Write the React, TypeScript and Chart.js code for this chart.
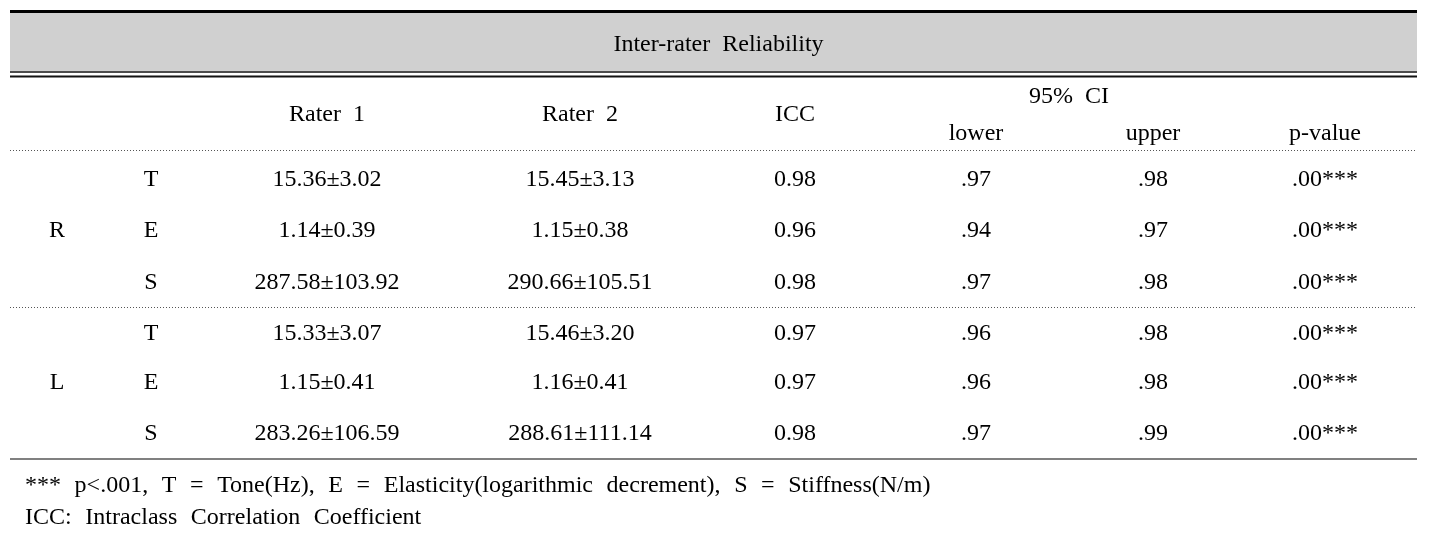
import React, { useEffect, useRef } from "react";
import { Chart, registerables } from "chart.js";

Chart.register(...registerables);

// ---- data ----
const title = "Inter-rater  Reliability";
const headerTop = ["Rater  1", "Rater  2", "ICC", "95%  CI"];
const headerSub = ["lower", "upper", "p-value"];
const sides = ["R", "L"];
const params = ["T", "E", "S", "T", "E", "S"];
const rater1 = ["15.36±3.02", "1.14±0.39", "287.58±103.92", "15.33±3.07", "1.15±0.41", "283.26±106.59"];
const rater2 = ["15.45±3.13", "1.15±0.38", "290.66±105.51", "15.46±3.20", "1.16±0.41", "288.61±111.14"];
const icc = ["0.98", "0.96", "0.98", "0.97", "0.97", "0.98"];
const lower = [".97", ".94", ".97", ".96", ".96", ".97"];
const upper = [".98", ".97", ".98", ".98", ".98", ".99"];
const pValue = [".00***", ".00***", ".00***", ".00***", ".00***", ".00***"];
const footnotes = [
  "***  p<.001,  T  =  Tone(Hz),  E  =  Elasticity(logarithmic  decrement),  S  =  Stiffness(N/m)",
  "ICC:  Intraclass  Correlation  Coefficient",
];

// ---- layout (positions in scale units) ----
const W = 1437;
const H = 536;
const COL = { side: 57, param: 151, r1: 327, r2: 580, icc: 795, lower: 976, upper: 1153, p: 1325, ci: 1069 };
const ROW_Y = [180, 231, 283, 334, 383, 434];
const SIDE_Y = [231, 383];
const HEAD_Y = { title: 45, top: 115, ci: 97, sub: 134 };
const FOOT = { x: 25, y: [486, 518] };
const LEFT = 10;
const RIGHT = 1417;
const FONT = '24px "Liberation Serif", "Times New Roman", serif';

type Cell = { x: number; y: number };

function colPoints(x: number, ys: number[]): Cell[] {
  return ys.map((y) => ({ x, y }));
}

export default function App() {
  const ref = useRef<HTMLCanvasElement | null>(null);
  useEffect(() => {
    if (!ref.current) return;
    const textSets: { labels: string[]; data: Cell[]; align: CanvasTextAlign; spacing: string }[] = [
      { labels: [title], data: [{ x: W / 2, y: HEAD_Y.title }], align: "center", spacing: "0px" },
      {
        labels: headerTop,
        data: [
          { x: COL.r1, y: HEAD_Y.top },
          { x: COL.r2, y: HEAD_Y.top },
          { x: COL.icc, y: HEAD_Y.top },
          { x: COL.ci, y: HEAD_Y.ci },
        ],
        align: "center",
        spacing: "0px",
      },
      {
        labels: headerSub,
        data: [
          { x: COL.lower, y: HEAD_Y.sub },
          { x: COL.upper, y: HEAD_Y.sub },
          { x: COL.p, y: HEAD_Y.sub },
        ],
        align: "center",
        spacing: "0px",
      },
      { labels: sides, data: colPoints(COL.side, SIDE_Y), align: "center", spacing: "0px" },
      { labels: params, data: colPoints(COL.param, ROW_Y), align: "center", spacing: "0px" },
      { labels: rater1, data: colPoints(COL.r1, ROW_Y), align: "center", spacing: "0px" },
      { labels: rater2, data: colPoints(COL.r2, ROW_Y), align: "center", spacing: "0px" },
      { labels: icc, data: colPoints(COL.icc, ROW_Y), align: "center", spacing: "0px" },
      { labels: lower, data: colPoints(COL.lower, ROW_Y), align: "center", spacing: "0px" },
      { labels: upper, data: colPoints(COL.upper, ROW_Y), align: "center", spacing: "0px" },
      { labels: pValue, data: colPoints(COL.p, ROW_Y), align: "center", spacing: "0px" },
      { labels: footnotes, data: colPoints(FOOT.x, FOOT.y), align: "left", spacing: "0.8px" },
    ];

    const tablePlugin = {
      id: "tablePlugin",
      beforeDatasetsDraw(chart: any) {
        const { ctx, scales } = chart;
        const xs = scales.x;
        const ys = scales.y;
        const px = (v: number) => xs.getPixelForValue(v);
        const py = (v: number) => ys.getPixelForValue(v);
        ctx.save();
        ctx.fillStyle = "#d0d0d0";
        ctx.fillRect(px(LEFT), py(13), px(RIGHT) - px(LEFT), py(71) - py(13));
        const hline = (y: number, w: number, color: string, dash: number[] = []) => {
          ctx.beginPath();
          ctx.setLineDash(dash);
          ctx.strokeStyle = color;
          ctx.lineWidth = w;
          ctx.moveTo(px(LEFT), py(y));
          ctx.lineTo(px(RIGHT), py(y));
          ctx.stroke();
        };
        hline(11.5, 3, "#000");
        hline(72, 1.5, "#111");
        hline(76.5, 2, "#111");
        hline(150.5, 1, "#555", [1, 2]);
        hline(307.5, 1, "#555", [1, 2]);
        hline(459, 2, "#808080");
        ctx.restore();
      },
      afterDatasetsDraw(chart: any) {
        const { ctx } = chart;
        ctx.save();
        ctx.font = FONT;
        ctx.fillStyle = "#000";
        ctx.textBaseline = "middle";
        chart.data.datasets.forEach((ds: any, di: number) => {
          const meta = chart.getDatasetMeta(di);
          ctx.textAlign = ds.textAlign;
          try {
            (ctx as any).wordSpacing = ds.wordSpacing;
          } catch (e) {}
          meta.data.forEach((el: any, i: number) => {
            ctx.fillText(ds.labels[i], el.x, el.y);
          });
        });
        ctx.restore();
      },
    };

    const chart = new Chart(ref.current, {
      type: "scatter",
      data: {
        datasets: textSets.map((s) => ({
          data: s.data,
          labels: s.labels,
          textAlign: s.align,
          wordSpacing: s.spacing,
          pointRadius: 0,
          pointHoverRadius: 0,
          showLine: false,
        })) as any,
      },
      options: {
        animation: false,
        responsive: false,
        devicePixelRatio: 1,
        events: [],
        layout: { padding: 0 },
        plugins: { legend: { display: false }, tooltip: { enabled: false } },
        scales: {
          x: { type: "linear", min: 0, max: W, display: false },
          y: { type: "linear", min: 0, max: H, reverse: true, display: false },
        },
      },
      plugins: [tablePlugin],
    });
    return () => chart.destroy();
  }, []);

  return (
    <div style={{ position: "absolute", left: 0, top: 0, width: W, height: H, background: "#fff" }}>
      <canvas ref={ref} width={W} height={H} style={{ display: "block" }} />
    </div>
  );
}
